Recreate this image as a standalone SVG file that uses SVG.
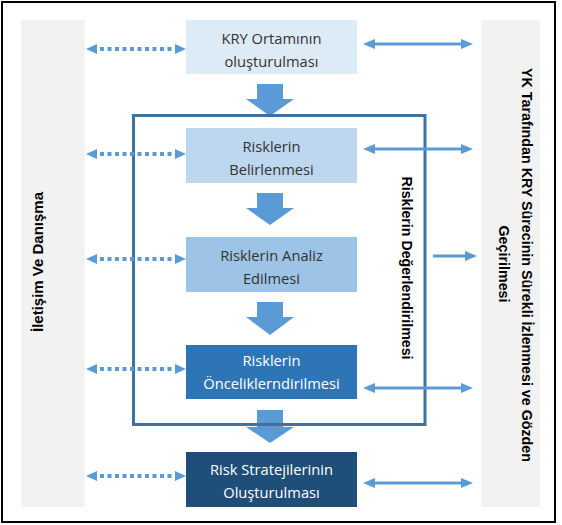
<svg xmlns="http://www.w3.org/2000/svg" width="562" height="525" viewBox="0 0 562 525">
<style>
.box text{font-family:"Open Sans","Liberation Sans",sans-serif;font-size:14.7px;text-anchor:middle}
.dark{fill:#333333}
.light{fill:#ffffff}
.vt{font-family:"Liberation Sans",Arial,sans-serif;font-size:14.5px;font-weight:bold;fill:#000;text-anchor:middle}
.dot{stroke:#5B9BD5;stroke-width:4;stroke-dasharray:4 3.5;fill:none}
.sol{stroke:#5B9BD5;stroke-width:3;fill:none}
.blk{fill:#5B9BD5}
</style>
<defs>
<marker id="hd" markerUnits="userSpaceOnUse" markerWidth="14" markerHeight="12" refX="-3" refY="5" orient="auto-start-reverse" overflow="visible">
<path d="M0,0 L11,5 L0,10 z" fill="#5B9BD5"/>
</marker>
<marker id="hs" markerUnits="userSpaceOnUse" markerWidth="14" markerHeight="12" refX="0" refY="5" orient="auto-start-reverse" overflow="visible">
<path d="M0,0 L12,5 L0,10 z" fill="#5B9BD5"/>
</marker>
</defs>
<rect x="0" y="0" width="562" height="525" fill="#ffffff"/>
<rect x="2" y="2" width="553" height="520" fill="#ffffff" stroke="#000" stroke-width="2"/>

<g id="left-panel">
<rect x="21" y="20" width="64" height="487" fill="#F2F2F2"/>
<text class="vt" transform="translate(43,262) rotate(-90)" textLength="140" lengthAdjust="spacingAndGlyphs">İletişim Ve Danışma</text>
</g>
<g id="right-panel">
<rect x="481" y="20" width="59" height="487" fill="#F2F2F2"/>
<text class="vt" transform="translate(522,265) rotate(90)" textLength="394" lengthAdjust="spacingAndGlyphs">YK Tarafından KRY Sürecinin Sürekli İzlenmesi ve Gözden</text>
<text class="vt" transform="translate(499,264) rotate(90)" textLength="77" lengthAdjust="spacingAndGlyphs">Geçirilmesi</text>
</g>

<g id="flow-arrows">
<path class="blk" d="M257,84 H283 V99 H294 L270,116 L246,99 H257 Z"/>
<path class="blk" d="M257,193 H283 V208 H294 L270,225 L246,208 H257 Z"/>
<path class="blk" d="M257,302 H283 V317 H294 L270,335 L246,317 H257 Z"/>
<path class="blk" d="M257,410 H283 V427 H294 L270,443 L246,427 H257 Z"/>
</g>

<g id="frame">
<rect x="133.5" y="115.5" width="291.5" height="309" fill="none" stroke="#41719C" stroke-width="3"/>
<text class="vt" transform="translate(402,268) rotate(90)" textLength="183" lengthAdjust="spacingAndGlyphs">Risklerin Değerlendirilmesi</text>
</g>

<g id="box1" class="box">
<rect x="186" y="20" width="171" height="54" fill="#DDEBF7"/>
<text class="dark" x="271.5" y="44">KRY Ortamının</text>
<text class="dark" x="271.5" y="67">oluşturulması</text>
</g>
<g id="box2" class="box">
<rect x="186" y="128" width="171" height="55" fill="#BDD7EE"/>
<text class="dark" x="271.5" y="152">Risklerin</text>
<text class="dark" x="271.5" y="175">Belirlenmesi</text>
</g>
<g id="box3" class="box">
<rect x="186" y="237" width="171" height="55" fill="#9DC3E6"/>
<text class="dark" x="271.5" y="261">Risklerin Analiz</text>
<text class="dark" x="271.5" y="284">Edilmesi</text>
</g>
<g id="box4" class="box">
<rect x="186" y="345" width="171" height="54" fill="#2E75B6"/>
<text class="light" x="271.5" y="366">Risklerin</text>
<text class="light" x="271.5" y="389">Önceliklerndirilmesi</text>
</g>
<g id="box5" class="box">
<rect x="186" y="452" width="171" height="55" fill="#1F4E79"/>
<text class="light" x="271.5" y="475">Risk Stratejilerinin</text>
<text class="light" x="271.5" y="498">Oluşturulması</text>
</g>

<g id="connectors">
<line class="dot" x1="100" y1="49" x2="172" y2="49" marker-start="url(#hd)" marker-end="url(#hd)"/>
<line class="dot" x1="100" y1="154" x2="172" y2="154" marker-start="url(#hd)" marker-end="url(#hd)"/>
<line class="dot" x1="100" y1="259" x2="172" y2="259" marker-start="url(#hd)" marker-end="url(#hd)"/>
<line class="dot" x1="100" y1="369" x2="172" y2="369" marker-start="url(#hd)" marker-end="url(#hd)"/>
<line class="dot" x1="100" y1="476" x2="172" y2="476" marker-start="url(#hd)" marker-end="url(#hd)"/>
<line class="sol" x1="375" y1="44" x2="461" y2="44" marker-start="url(#hs)" marker-end="url(#hs)"/>
<line class="sol" x1="375" y1="149" x2="461" y2="149" marker-start="url(#hs)" marker-end="url(#hs)"/>
<line class="sol" x1="433" y1="256" x2="465" y2="256" marker-end="url(#hs)"/>
<line class="sol" x1="375" y1="388" x2="461" y2="388" marker-start="url(#hs)" marker-end="url(#hs)"/>
<line class="sol" x1="375" y1="483" x2="461" y2="483" marker-start="url(#hs)" marker-end="url(#hs)"/>
</g>
</svg>
